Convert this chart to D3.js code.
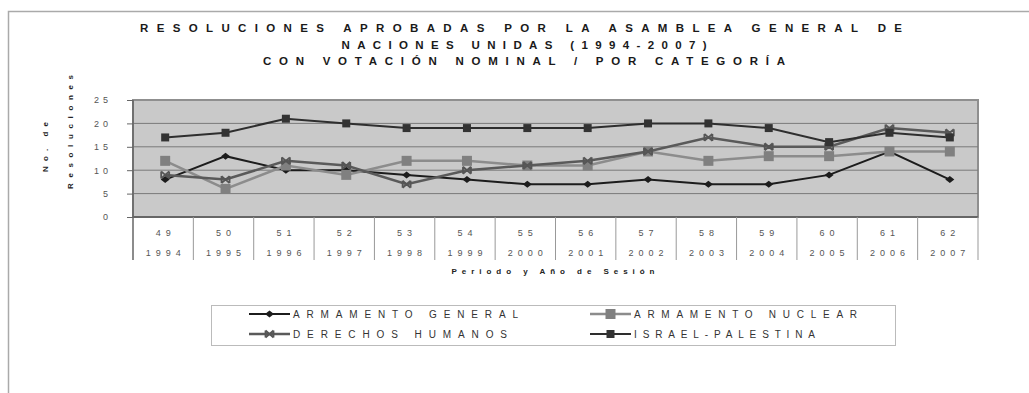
<!DOCTYPE html>
<html>
<head>
<meta charset="utf-8">
<script src="https://cdn.jsdelivr.net/npm/d3@7"></script>
<style>
  body { margin: 0; background: #fff; }
  svg { display: block; font-family: "Liberation Sans", Arial, sans-serif; }
  .tick-label { fill: #555; font-size: 9px; letter-spacing: 4px; }
  .cat-label { fill: #555; font-size: 9px; letter-spacing: 5px; }
  .title { fill: #1a1a1a; font-size: 11.5px; font-weight: bold; }
  .axis-title { fill: #222; font-size: 8px; font-weight: bold; }
  .legend-text { fill: #333; font-size: 10px; }
</style>
</head>
<body>
<div id="chart"></div>
<script>
// data
const sessions = ["49", "50", "51", "52", "53", "54", "55", "56", "57", "58", "59", "60", "61", "62"];
const years = ["1994", "1995", "1996", "1997", "1998", "1999", "2000", "2001", "2002", "2003", "2004", "2005", "2006", "2007"];
const armamentoGeneral = [8, 13, 10, 10, 9, 8, 7, 7, 8, 7, 7, 9, 14, 8];
const armamentoNuclear = [12, 6, 11, 9, 12, 12, 11, 11, 14, 12, 13, 13, 14, 14];
const derechosHumanos = [9, 8, 12, 11, 7, 10, 11, 12, 14, 17, 15, 15, 19, 18];
const israelPalestina = [17, 18, 21, 20, 19, 19, 19, 19, 20, 20, 19, 16, 18, 17];
const yTicks = [0, 5, 10, 15, 20, 25];
const seriesNames = ["ARMAMENTO GENERAL", "ARMAMENTO NUCLEAR", "DERECHOS HUMANOS", "ISRAEL-PALESTINA"];

const width = 1029, height = 393;
const plot = { left: 133, right: 978, top: 100, bottom: 217 };

const svg = d3.select("#chart").append("svg")
    .attr("width", width)
    .attr("height", height);

// outer frame (top + left only)
svg.append("path")
    .attr("d", "M8.5,393V11.5H1029")
    .attr("fill", "none")
    .attr("stroke", "#aaa")
    .attr("stroke-width", 1.5);

// titles
const titles = [
    { text: "RESOLUCIONES APROBADAS POR LA ASAMBLEA GENERAL DE", x: 521, y: 32, len: 762 },
    { text: "NACIONES UNIDAS (1994-2007)", x: 524, y: 49, len: 365 },
    { text: "CON VOTACIÓN NOMINAL / POR CATEGORÍA", x: 524, y: 65, len: 522 }
];
svg.selectAll(".title").data(titles).join("text")
    .attr("class", "title")
    .attr("x", d => d.x).attr("y", d => d.y)
    .attr("text-anchor", "middle")
    .attr("textLength", d => d.len)
    .attr("lengthAdjust", "spacing")
    .text(d => d.text);

const xBand = d3.scaleBand().domain(years).range([plot.left, plot.right]).padding(0);
const x = d => xBand(d) + xBand.bandwidth() / 2 + 2;
const y = d3.scaleLinear().domain([0, 25]).range([plot.bottom, plot.top]);

// plot background
svg.append("rect")
    .attr("x", plot.left).attr("y", plot.top)
    .attr("width", plot.right - plot.left).attr("height", plot.bottom - plot.top)
    .attr("fill", "#c9c9c9")
    .attr("stroke", "#8f8f8f")
    .attr("stroke-width", 2);

// gridlines
svg.append("g").selectAll("line")
    .data(yTicks.filter(t => t > 0 && t < 25))
    .join("line")
    .attr("x1", plot.left).attr("x2", plot.right)
    .attr("y1", d => y(d)).attr("y2", d => y(d))
    .attr("stroke", "#7a7a7a")
    .attr("stroke-width", 1);

// bottom edge of plot
svg.append("line")
    .attr("x1", plot.left).attr("x2", plot.right)
    .attr("y1", plot.bottom).attr("y2", plot.bottom)
    .attr("stroke", "#666").attr("stroke-width", 2);

// y axis
const yAxis = svg.append("g")
    .attr("transform", `translate(${plot.left},0)`)
    .call(d3.axisLeft(y).tickValues(yTicks).tickSize(6).tickPadding(15));
yAxis.select(".domain").remove();
yAxis.selectAll(".tick line").attr("stroke", "#666");
yAxis.selectAll(".tick text")
    .attr("class", "tick-label")
    .attr("font-family", null).attr("font-size", null).attr("fill", null);

svg.append("line")
    .attr("x1", plot.left).attr("x2", plot.left)
    .attr("y1", plot.top).attr("y2", 260)
    .attr("stroke", "#666").attr("stroke-width", 1.5);

// category grid below the plot
const edges = years.map(d => xBand(d)).concat([plot.right]);
svg.append("g").selectAll("line")
    .data(edges.slice(1))
    .join("line")
    .attr("x1", d => d).attr("x2", d => d)
    .attr("y1", plot.bottom).attr("y2", 260)
    .attr("stroke", "#999").attr("stroke-width", 1);

svg.append("g").selectAll("text")
    .data(sessions)
    .join("text")
    .attr("class", "cat-label")
    .attr("x", (d, i) => xBand(years[i]) + xBand.bandwidth() / 2 + 2.5)
    .attr("y", 236)
    .attr("text-anchor", "middle")
    .text(d => d);

svg.append("g").selectAll("text")
    .data(years)
    .join("text")
    .attr("class", "cat-label")
    .attr("x", d => xBand(d) + xBand.bandwidth() / 2 + 2.5)
    .attr("y", 256)
    .attr("text-anchor", "middle")
    .text(d => d);

// axis titles
svg.append("text")
    .attr("class", "axis-title")
    .attr("x", 553).attr("y", 274)
    .attr("text-anchor", "middle")
    .attr("textLength", 203).attr("lengthAdjust", "spacing")
    .text("Periodo y Año de Sesión");

svg.append("text")
    .attr("class", "axis-title")
    .attr("transform", "translate(48,147) rotate(-90)")
    .attr("text-anchor", "middle")
    .attr("textLength", 50).attr("lengthAdjust", "spacing")
    .text("No. de");

svg.append("text")
    .attr("class", "axis-title")
    .attr("transform", "translate(73,132) rotate(-90)")
    .attr("text-anchor", "middle")
    .attr("textLength", 114).attr("lengthAdjust", "spacing")
    .text("Resoluciones");

// series
const diamond = "M-4.5,0L0,-3.5L4.5,0L0,3.5Z";
const bowtie = "M-4,-3.5L4,3.5M-4,3.5L4,-3.5M-4,-3.5V3.5M4,-3.5V3.5";
const series = [
    { name: seriesNames[0], values: armamentoGeneral, color: "#1c1c1c", width: 2, marker: diamond, fill: "#1c1c1c", mstroke: "none", msw: 0 },
    { name: seriesNames[1], values: armamentoNuclear, color: "#8c8c8c", width: 2.5, marker: "M-5,-5H5V5H-5Z", fill: "#808080", mstroke: "none", msw: 0 },
    { name: seriesNames[2], values: derechosHumanos, color: "#5a5a5a", width: 2.5, marker: bowtie, fill: "none", mstroke: "#555", msw: 1.8 },
    { name: seriesNames[3], values: israelPalestina, color: "#2e2e2e", width: 2, marker: "M-4,-4H4V4H-4Z", fill: "#333", mstroke: "none", msw: 0 }
];

const line = d3.line().x((d, i) => x(years[i])).y(d => y(d));

series.forEach(s => {
    const g = svg.append("g");
    g.append("path")
        .attr("d", line(s.values))
        .attr("fill", "none")
        .attr("stroke", s.color)
        .attr("stroke-width", s.width);
    g.selectAll("path.marker")
        .data(s.values)
        .join("path")
        .attr("class", "marker")
        .attr("d", s.marker)
        .attr("transform", (d, i) => `translate(${x(years[i])},${y(d)})`)
        .attr("fill", s.fill)
        .attr("stroke", s.mstroke)
        .attr("stroke-width", s.msw);
});

// legend
svg.append("rect")
    .attr("x", 211.5).attr("y", 305.5)
    .attr("width", 684).attr("height", 40)
    .attr("fill", "#fff")
    .attr("stroke", "#bbb").attr("stroke-width", 1);

const legendPos = [
    { x: 249, y: 314, len: 225 },
    { x: 590, y: 314, len: 223 },
    { x: 249, y: 334, len: 214 },
    { x: 590, y: 334, len: 181 }
];

series.forEach((s, i) => {
    const p = legendPos[i];
    const g = svg.append("g").attr("transform", `translate(${p.x},${p.y})`);
    g.append("line")
        .attr("x1", 0).attr("x2", 41)
        .attr("stroke", s.color).attr("stroke-width", s.width);
    g.append("path")
        .attr("d", s.marker)
        .attr("transform", "translate(20.5,0)")
        .attr("fill", s.fill)
        .attr("stroke", s.mstroke)
        .attr("stroke-width", s.msw);
    g.append("text")
        .attr("class", "legend-text")
        .attr("x", 44).attr("y", 3.5)
        .attr("textLength", p.len).attr("lengthAdjust", "spacing")
        .text(s.name);
});
</script>
</body>
</html>
